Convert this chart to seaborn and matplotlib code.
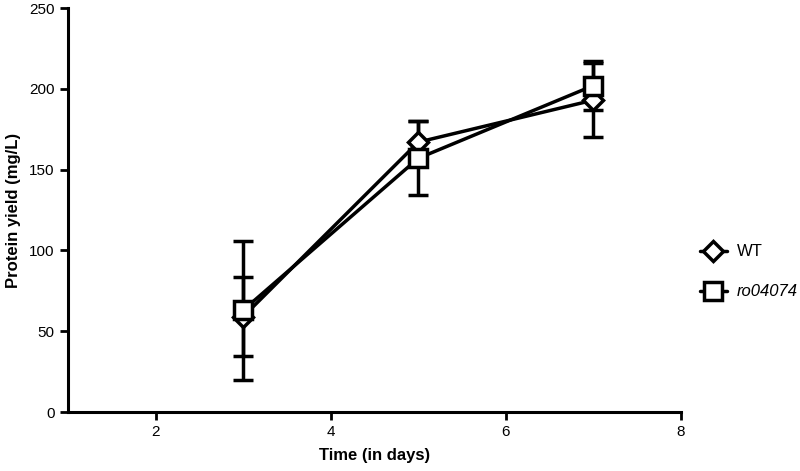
import matplotlib
matplotlib.use("Agg")
import matplotlib.pyplot as plt
import seaborn as sns
import pandas as pd
from matplotlib.lines import Line2D

days = [3, 5, 7]
wt_mean = [59, 167, 193]
wt_err = [24.5, 13, 23]
mut_mean = [63, 157, 202]
mut_err = [43, 23, 15]
series_names = ["WT", "ro04074"]

sns.set_style("ticks", {"axes.edgecolor": "black", "xtick.color": "black",
                        "ytick.color": "black", "text.color": "black",
                        "axes.labelcolor": "black"})
plt.rcParams['font.family'] = ['Liberation Sans', 'DejaVu Sans']

df = pd.DataFrame({
    "day": days * 2,
    "yield": wt_mean + mut_mean,
    "err": wt_err + mut_err,
    "strain": [series_names[0]] * 3 + [series_names[1]] * 3,
})

fig = plt.figure(figsize=(8, 4.71), dpi=100)
ax = fig.add_axes([68/800, 1 - 412/471, (681-68)/800, (412-8)/471])

markers = {"WT": "D", "ro04074": "s"}
msizes = {"WT": 10.5, "ro04074": 12.5}
for name in series_names:
    sub = df[df.strain == name]
    ax.errorbar(sub["day"], sub["yield"], yerr=sub["err"], fmt="none",
                ecolor="black", elinewidth=2.5, capsize=7.5, capthick=2.5, zorder=2)
    sns.lineplot(data=sub, x="day", y="yield", ax=ax, color="black",
                 linewidth=2.5, marker=markers[name], markersize=msizes[name],
                 markerfacecolor="white", markeredgecolor="black",
                 markeredgewidth=2.5, zorder=3, legend=False)

ax.set_xlim(1, 8)
ax.set_ylim(0, 250)
ax.set_xticks([2, 4, 6, 8])
ax.set_yticks([0, 50, 100, 150, 200, 250])
ax.tick_params(axis="both", width=2, length=6, labelsize=11, colors="black")
for s in ["left", "bottom"]:
    ax.spines[s].set_linewidth(2.2)
    ax.spines[s].set_color("black")
ax.spines["top"].set_visible(False)
ax.spines["right"].set_visible(False)
ax.set_xlabel("Time (in days)", fontsize=12, fontweight="bold", labelpad=6, color="black")
ax.set_ylabel("Protein yield (mg/L)", fontsize=12, fontweight="bold", labelpad=6, color="black")

handles = [
    Line2D([], [], color="black", linewidth=2.5, marker="D", markersize=10.5,
           markerfacecolor="white", markeredgewidth=2.5),
    Line2D([], [], color="black", linewidth=2.5, marker="s", markersize=12.5,
           markerfacecolor="white", markeredgewidth=2.5),
]
leg = fig.legend(handles, series_names, loc="center left",
                 bbox_to_anchor=(685/800, 1 - 272/471), frameon=False,
                 fontsize=12, handlelength=1.6, labelspacing=1.5, handletextpad=0.6)
for t in leg.get_texts():
    t.set_color("black")
leg.get_texts()[1].set_fontstyle("italic")

fig.savefig("out.png", dpi=100)
